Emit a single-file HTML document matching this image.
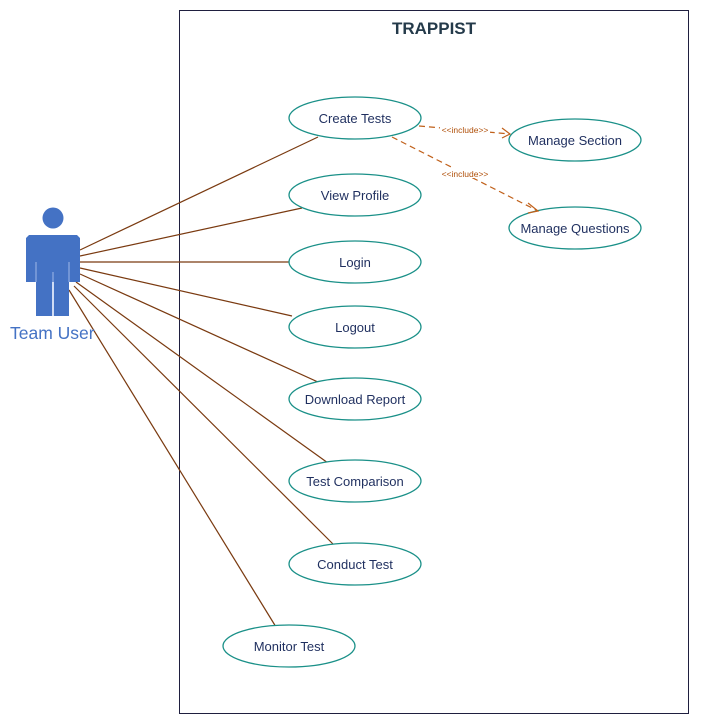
<html><body style="margin:0;background:#fff">
<svg width="702" height="724" xmlns="http://www.w3.org/2000/svg" font-family="Liberation Sans, sans-serif">
<rect x="179.5" y="10.5" width="509" height="703" fill="none" stroke="#1f1f3f" stroke-width="1"/>
<text x="434" y="34" text-anchor="middle" font-weight="bold" font-size="17" fill="#243a4a">TRAPPIST</text>
<g stroke="#7a3a10" stroke-width="1.2">
<line x1="80" y1="250" x2="318" y2="137"/>
<line x1="80" y1="256" x2="302" y2="208"/>
<line x1="80" y1="262" x2="289" y2="262"/>
<line x1="80" y1="268" x2="292" y2="316"/>
<line x1="80" y1="274" x2="318" y2="382"/>
<line x1="76" y1="282" x2="328" y2="463"/>
<line x1="74" y1="286" x2="334" y2="545"/>
<line x1="69" y1="290" x2="276" y2="627"/>
</g>
<g fill="#4472c4">
<circle cx="53" cy="218" r="10.5"/>
<path d="M29 235 H77 L80 238 V282 H69 V316 H54 V282 H52 V316 H36 V282 H26 V238 Z"/>
</g>
<g stroke="#a0b8e8" stroke-width="1"><line x1="36" y1="262" x2="36" y2="282"/><line x1="69" y1="262" x2="69" y2="282"/><line x1="53" y1="272" x2="53" y2="316"/></g>
<text x="10" y="339" font-size="17.5" fill="#4472c4">Team User</text>
<g fill="#fff" stroke="#1a9088" stroke-width="1.3">
<ellipse cx="355" cy="118" rx="66" ry="21"/>
<ellipse cx="355" cy="195" rx="66" ry="21"/>
<ellipse cx="355" cy="262" rx="66" ry="21"/>
<ellipse cx="355" cy="327" rx="66" ry="21"/>
<ellipse cx="355" cy="399" rx="66" ry="21"/>
<ellipse cx="355" cy="481" rx="66" ry="21"/>
<ellipse cx="355" cy="564" rx="66" ry="21"/>
<ellipse cx="289" cy="646" rx="66" ry="21"/>
<ellipse cx="575" cy="140" rx="66" ry="21"/>
<ellipse cx="575" cy="228" rx="66" ry="21"/>
</g>
<g font-size="13" fill="#1f2f5f" text-anchor="middle">
<text x="355" y="123">Create Tests</text>
<text x="355" y="200">View Profile</text>
<text x="355" y="267">Login</text>
<text x="355" y="332">Logout</text>
<text x="355" y="404">Download Report</text>
<text x="355" y="486">Test Comparison</text>
<text x="355" y="569">Conduct Test</text>
<text x="289" y="651">Monitor Test</text>
<text x="575" y="145">Manage Section</text>
<text x="575" y="233">Manage Questions</text>
</g>
<g stroke="#c0601a" stroke-width="1.2" fill="none" stroke-dasharray="6,4">
<line x1="419" y1="126" x2="510" y2="134"/>
<line x1="392" y1="137" x2="538" y2="211"/>
</g>
<g stroke="#c0601a" stroke-width="1.2" fill="none">
<polyline points="502,128 510,134 502,138"/>
<polyline points="528,203 538,211 528,213"/>
</g>
<rect x="440" y="124" width="50" height="10" fill="#fff"/>
<rect x="440" y="168" width="50" height="10" fill="#fff"/>
<g font-size="8.5" fill="#b0500a" text-anchor="middle">
<text x="465" y="133">&lt;&lt;include&gt;&gt;</text>
<text x="465" y="177">&lt;&lt;include&gt;&gt;</text>
</g>
</svg>
</body></html>
